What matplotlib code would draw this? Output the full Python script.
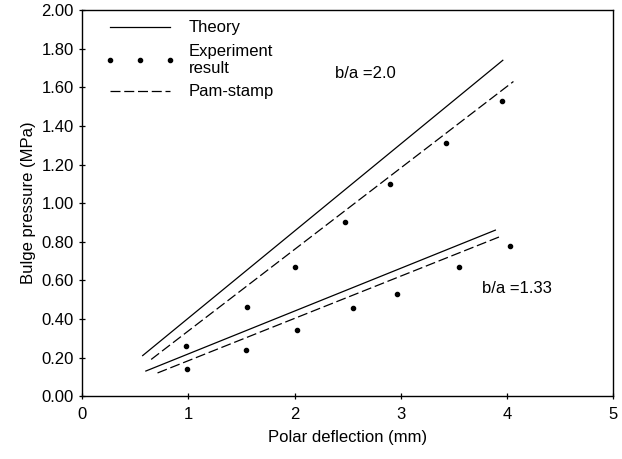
import numpy as np
import matplotlib.pyplot as plt

plt.rcParams['font.family'] = ['Liberation Sans', 'DejaVu Sans']

# b/a = 2.0
theory_x_20 = [0.57, 3.96]
theory_y_20 = [0.21, 1.74]
pam_x_20 = [0.65, 4.06]
pam_y_20 = [0.19, 1.63]
exp_x_20 = [0.98, 1.55, 2.00, 2.47, 2.90, 3.43, 3.95]
exp_y_20 = [0.26, 0.46, 0.67, 0.90, 1.10, 1.31, 1.53]

# b/a = 1.33
theory_x_133 = [0.60, 3.89]
theory_y_133 = [0.13, 0.86]
pam_x_133 = [0.71, 3.95]
pam_y_133 = [0.12, 0.83]
exp_x_133 = [0.99, 1.54, 2.02, 2.55, 2.96, 3.55, 4.03]
exp_y_133 = [0.14, 0.24, 0.34, 0.455, 0.53, 0.67, 0.78]

x_ticks = [0, 1, 2, 3, 4, 5]
y_ticks = np.arange(0, 2.01, 0.2)

fig = plt.figure(figsize=(6.22, 4.59), dpi=100)
ax = fig.add_axes([0.132, 0.137, 0.854, 0.841])

dash = (8, 3)
ax.plot(theory_x_20, theory_y_20, color='black', lw=0.9, label='Theory')
ax.plot(exp_x_20, exp_y_20, 'o', color='black', ms=3, label='Experiment\nresult')
ax.plot(pam_x_20, pam_y_20, color='black', lw=0.9, dashes=dash, label='Pam-stamp')

ax.plot(theory_x_133, theory_y_133, color='black', lw=0.9)
ax.plot(exp_x_133, exp_y_133, 'o', color='black', ms=3)
ax.plot(pam_x_133, pam_y_133, color='black', lw=0.9, dashes=dash)

ax.text(2.38, 1.67, 'b/a =2.0', fontsize=12, va='center')
ax.text(3.76, 0.56, 'b/a =1.33', fontsize=12, va='center')

ax.set_xlim(0, 5)
ax.set_ylim(0, 2.0)
ax.set_xticks(x_ticks)
ax.set_yticks(y_ticks)
ax.set_yticklabels(['%.2f' % v for v in y_ticks])
ax.tick_params(direction='inout', length=5, width=0.9, labelsize=12)
ax.tick_params(axis='x', pad=5)
for s in ax.spines.values():
    s.set_linewidth(1.0)

ax.set_xlabel('Polar deflection (mm)', fontsize=12, labelpad=6)
ax.set_ylabel('Bulge pressure (MPa)', fontsize=12, labelpad=4)

ax.legend(loc='upper left', frameon=False, fontsize=12, numpoints=3,
          handlelength=4.2, handletextpad=0.8, labelspacing=0.5,
          borderaxespad=0.1, bbox_to_anchor=(0.028, 0.995))

plt.savefig('out.png', dpi=100)
